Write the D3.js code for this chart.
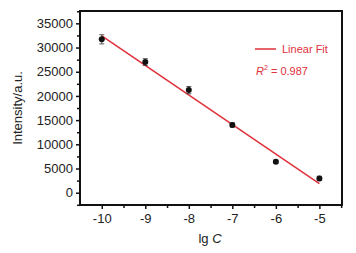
<!DOCTYPE html>
<html><head><meta charset="utf-8">
<script src="https://cdn.jsdelivr.net/npm/d3@7"></script>
<style>body{margin:0;background:#fff}svg{display:block}text{font-family:"Liberation Sans",Arial,sans-serif}</style>
</head><body><svg id="c" width="356" height="253"></svg>
<script>
const lgC = [-10, -9, -8, -7, -6, -5];
const intensity = [31700, 27000, 21200, 14000, 6400, 2950];
const errors = [950, 700, 750, 450, 300, 450];
const fitX = [-10, -5];
const fitY = [32400, 1900];
const xTicks = [-10, -9, -8, -7, -6, -5];
const yTicks = [0, 5000, 10000, 15000, 20000, 25000, 30000, 35000];
const red = "#e0303a";

const svg = d3.select("#c");
const L = 80, R = 342, T = 11, B = 205;
const x = d3.scaleLinear().domain([-10.5, -4.48]).range([L, R]);
const y = d3.scaleLinear().domain([-2540, 37550]).range([B, T]);
const fmt = d => String(d);

// frame
svg.append("rect").attr("x", L).attr("y", T).attr("width", R - L).attr("height", B - T)
  .attr("fill", "none").attr("stroke", "#111").attr("stroke-width", 2);

// axes
const xAx = svg.append("g").attr("transform", `translate(0,${B})`)
  .call(d3.axisBottom(x).tickValues(xTicks).tickSize(4).tickPadding(5).tickFormat(fmt));
const xMinor = svg.append("g").attr("transform", `translate(0,${B})`)
  .call(d3.axisBottom(x).tickValues(xTicks.map(d => d - 0.5).concat([-4.5]).filter(d => d > -10.5 && d < -4.48)).tickSize(3).tickFormat(""));
const yAx = svg.append("g").attr("transform", `translate(${L},0)`)
  .call(d3.axisLeft(y).tickValues(yTicks).tickSize(4).tickPadding(3).tickFormat(fmt));
const yMinor = svg.append("g").attr("transform", `translate(${L},0)`)
  .call(d3.axisLeft(y).tickValues([-2500].concat(yTicks.map(d => d + 2500))).tickSize(3).tickFormat(""));
[xAx, xMinor, yAx, yMinor].forEach(g => {
  g.select(".domain").remove();
  g.selectAll("line").attr("stroke", "#111").attr("stroke-width", 1.5);
  g.selectAll("text").attr("font-size", 13).attr("fill", "#222")
    .style("font-family", '"Liberation Sans",Arial,sans-serif');
});

// fit line
svg.append("line").attr("x1", x(fitX[0])).attr("y1", y(fitY[0]))
  .attr("x2", x(fitX[1])).attr("y2", y(fitY[1]))
  .attr("stroke", red).attr("stroke-width", 1.5);

// error bars
const eb = svg.append("g").attr("stroke", "#333").attr("stroke-width", 0.8);
lgC.forEach((d, i) => {
  const cx = x(d), y0 = y(intensity[i] - errors[i]), y1 = y(intensity[i] + errors[i]);
  eb.append("line").attr("x1", cx).attr("x2", cx).attr("y1", y0).attr("y2", y1);
  eb.append("line").attr("x1", cx - 2.5).attr("x2", cx + 2.5).attr("y1", y0).attr("y2", y0);
  eb.append("line").attr("x1", cx - 2.5).attr("x2", cx + 2.5).attr("y1", y1).attr("y2", y1);
});
svg.append("g").selectAll("circle").data(lgC).join("circle")
  .attr("cx", d => x(d)).attr("cy", (d, i) => y(intensity[i])).attr("r", 3).attr("fill", "#111");

// legend
svg.append("line").attr("x1", 255).attr("x2", 276).attr("y1", 49).attr("y2", 49)
  .attr("stroke", red).attr("stroke-width", 1.5);
svg.append("text").attr("x", 282).attr("y", 53).attr("font-size", 11).attr("fill", red).text("Linear Fit");
const r2 = svg.append("text").attr("x", 256).attr("y", 75).attr("font-size", 11).attr("fill", red);
r2.append("tspan").attr("font-style", "italic").text("R");
r2.append("tspan").attr("font-size", 7).attr("dy", -5).text("2");
r2.append("tspan").attr("dy", 5).text(" = 0.987");

// axis labels
svg.append("text").attr("transform", "translate(22,108) rotate(-90)").attr("text-anchor", "middle")
  .attr("font-size", 13).attr("fill", "#222").text("Intensity/a.u.");
const xl = svg.append("text").attr("x", 210).attr("y", 243).attr("text-anchor", "middle")
  .attr("font-size", 13).attr("fill", "#222");
xl.append("tspan").text("lg ");
xl.append("tspan").attr("font-style", "italic").text("C");
</script></body></html>
